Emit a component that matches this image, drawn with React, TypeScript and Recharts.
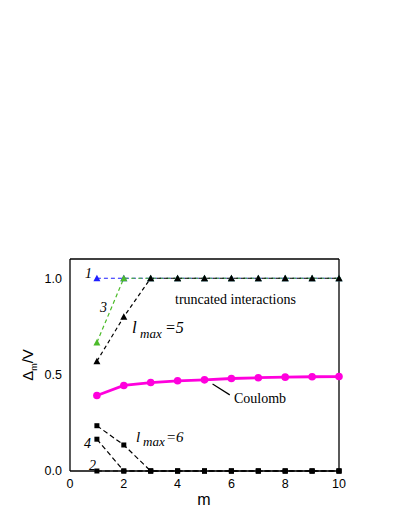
import React from 'react';
import { ComposedChart, Line, XAxis, YAxis, ReferenceLine } from 'recharts';

// m values and gap ratios
const M_VALUES = [1, 2, 3, 4, 5, 6, 7, 8, 9, 10];
const LMAX1 = [1, 1, 1, 1, 1, 1, 1, 1, 1, 1];
const LMAX3 = [0.667, 1, 1, 1, 1, 1, 1, 1, 1, 1];
const LMAX5 = [0.57, 0.8, 1, 1, 1, 1, 1, 1, 1, 1];
const COULOMB = [0.392, 0.444, 0.459, 0.468, 0.473, 0.48, 0.484, 0.487, 0.489, 0.49];
const LMAX6 = [0.235, 0.135, 0, 0, 0, 0, 0, 0, 0, 0];
const LMAX4 = [0.165, 0, 0, 0, 0, 0, 0, 0, 0, 0];
const LMAX2 = [0, 0, 0, 0, 0, 0, 0, 0, 0, 0];

const X_LABEL_TICKS = [0, 2, 4, 6, 8, 10];
const X_MINOR_TICKS = [0, 1, 2, 3, 4, 5, 6, 7, 8, 9, 10];
const Y_LABEL_TICKS = [0, 0.5, 1];
const Y_MINOR_TICKS = [0, 0.25, 0.5, 0.75, 1];

const data = M_VALUES.map((m, i) => ({
  m,
  l1: LMAX1[i],
  l3: LMAX3[i],
  l5: LMAX5[i],
  coulomb: COULOMB[i],
  l6: LMAX6[i],
  l4: LMAX4[i],
  l2: LMAX2[i],
}));

const SANS = '"Liberation Sans", Arial, sans-serif';
const SERIF = '"Liberation Serif", "DejaVu Serif", "Times New Roman", serif';

const triangle = (color: string) => (props: any) => {
  const { cx, cy, index } = props;
  if (cx == null || cy == null) return <g key={`t-${index}`} />;
  return (
    <polygon
      key={`t-${index}`}
      points={`${cx - 3.5},${cy + 3} ${cx + 3.5},${cy + 3} ${cx},${cy - 3.5}`}
      fill={color}
    />
  );
};

const square = (props: any) => {
  const { cx, cy, index } = props;
  if (cx == null || cy == null) return <g key={`s-${index}`} />;
  return <rect key={`s-${index}`} x={cx - 2.5} y={cy - 2.5} width={5} height={5} fill="#000" />;
};

const tickStyle = { fill: '#000', fontSize: 12.5, fontFamily: SANS };
const ids = { xAxisId: 'b', yAxisId: 'l' };
const serif = { fontFamily: SERIF };
const serifItalic = { fontFamily: SERIF, fontStyle: 'italic' as const };

export default function App() {
  return (
    <div style={{ position: 'absolute', left: 0, top: 0, width: 409, height: 529, background: '#fff' }}>
      <ComposedChart
        width={409}
        height={529}
        data={data}
        margin={{ top: 259, right: 70, bottom: 28, left: 30 }}
      >
        <XAxis
          xAxisId="b"
          dataKey="m"
          type="number"
          domain={[0, 10]}
          ticks={X_LABEL_TICKS}
          tickLine={false}
          tickSize={6}
          tickMargin={2}
          axisLine={{ stroke: '#000', strokeWidth: 1.3 }}
          tick={tickStyle}
          height={30}
        />
        <XAxis
          xAxisId="bm"
          type="number"
          domain={[0, 10]}
          ticks={X_MINOR_TICKS}
          mirror
          tick={false}
          tickSize={4}
          tickLine={{ stroke: '#000', strokeWidth: 1 }}
          axisLine={false}
        />
        <XAxis
          xAxisId="t"
          orientation="top"
          type="number"
          domain={[0, 10]}
          ticks={X_MINOR_TICKS}
          mirror
          tick={false}
          tickSize={4}
          tickLine={{ stroke: '#000', strokeWidth: 1 }}
          axisLine={{ stroke: '#000', strokeWidth: 1.3 }}
        />
        <YAxis
          yAxisId="l"
          type="number"
          domain={[0, 1.1]}
          ticks={Y_LABEL_TICKS}
          tickFormatter={(v: number) => v.toFixed(1)}
          tickLine={false}
          tickSize={6}
          tickMargin={2}
          axisLine={{ stroke: '#000', strokeWidth: 1.3 }}
          tick={tickStyle}
          width={40}
        />
        <YAxis
          yAxisId="lm"
          type="number"
          domain={[0, 1.1]}
          ticks={Y_MINOR_TICKS}
          mirror
          tick={false}
          tickSize={4}
          tickLine={{ stroke: '#000', strokeWidth: 1 }}
          axisLine={false}
        />
        <YAxis
          yAxisId="r"
          orientation="right"
          type="number"
          domain={[0, 1.1]}
          ticks={Y_MINOR_TICKS}
          mirror
          tick={false}
          tickSize={4}
          tickLine={{ stroke: '#000', strokeWidth: 1 }}
          axisLine={{ stroke: '#000', strokeWidth: 1.3 }}
        />

        <Line {...ids} dataKey="l1" stroke="#1f1fff" strokeWidth={1.2} strokeDasharray="4 3" dot={triangle('#1f1fff')} isAnimationActive={false} />
        <Line {...ids} dataKey="l3" stroke="#4cbb2a" strokeWidth={1.2} strokeDasharray="4 3" dot={triangle('#4cbb2a')} isAnimationActive={false} />
        <Line {...ids} dataKey="l5" stroke="#000" strokeWidth={1.2} strokeDasharray="4 3" dot={triangle('#000')} isAnimationActive={false} />
        <Line {...ids} dataKey="coulomb" stroke="#ff00dd" strokeWidth={2.8} dot={{ r: 3.8, fill: '#ff00dd', stroke: '#ff00dd', strokeWidth: 0 }} isAnimationActive={false} />
        <Line {...ids} dataKey="l6" stroke="#000" strokeWidth={1.2} strokeDasharray="5 3" dot={square} isAnimationActive={false} />
        <Line {...ids} dataKey="l4" stroke="#000" strokeWidth={1.2} strokeDasharray="5 3" dot={square} isAnimationActive={false} />
        <Line {...ids} dataKey="l2" stroke="#000" strokeWidth={1.2} strokeDasharray="5 3" dot={square} isAnimationActive={false} />

        <ReferenceLine
          {...ids}
          segment={[{ x: 5.3, y: 0.451 }, { x: 5.94, y: 0.395 }]}
          stroke="#000"
          strokeWidth={1.2}
        />
      </ComposedChart>

      <svg width={409} height={529} style={{ position: 'absolute', left: 0, top: 0, pointerEvents: 'none' }}>
        <text x={85} y={278} fontSize={14} style={serifItalic}>1</text>
        <text x={100} y={312} fontSize={14} style={serifItalic}>3</text>
        <text x={84} y={448} fontSize={14} style={serifItalic}>4</text>
        <text x={89} y={470} fontSize={14} style={serifItalic}>2</text>

        <text x={175} y={304} fontSize={14} style={serif}>truncated interactions</text>
        <text x={234} y={403} fontSize={14} style={serif}>Coulomb</text>

        <text style={serifItalic}>
          <tspan x={132} y={333} fontSize={17}>l</tspan>
          <tspan x={140} y={338} fontSize={13}>max</tspan>
          <tspan x={165} y={333} fontSize={16}>=5</tspan>
        </text>
        <text style={serifItalic}>
          <tspan x={136} y={442} fontSize={15}>l</tspan>
          <tspan x={143} y={446} fontSize={13}>max</tspan>
          <tspan x={166} y={442} fontSize={15}>=6</tspan>
        </text>

        <text x={204} y={505} fontSize={16} textAnchor="middle" style={{ fontFamily: SANS }}>m</text>
        <text transform="translate(33,365) rotate(-90)" fontSize={15} textAnchor="middle" style={{ fontFamily: SANS }}>
          Δ<tspan fontSize={9} dy={4}>m</tspan><tspan dy={-4}>/V</tspan>
        </text>
      </svg>
    </div>
  );
}
